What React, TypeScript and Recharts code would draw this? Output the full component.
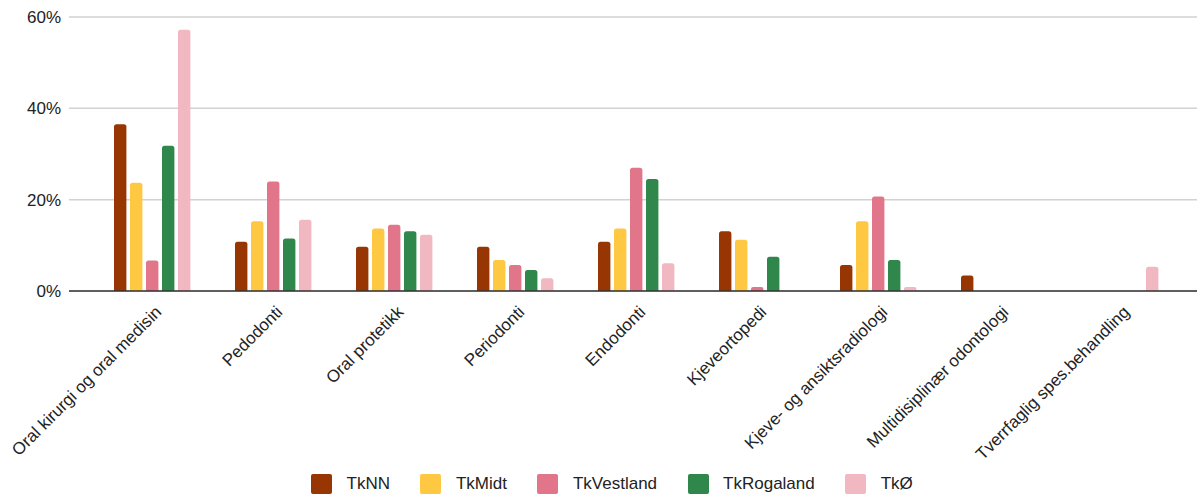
import React from 'react';
import { BarChart, Bar, XAxis, YAxis, CartesianGrid, Legend } from 'recharts';

const categories = [
  'Oral kirurgi og oral medisin',
  'Pedodonti',
  'Oral protetikk',
  'Periodonti',
  'Endodonti',
  'Kjeveortopedi',
  'Kjeve- og ansiktsradiologi',
  'Multidisiplinær odontologi',
  'Tverrfaglig spes.behandling',
];

const tkNN = [36.5, 10.8, 9.7, 9.7, 10.8, 13.1, 5.7, 3.4, 0];
const tkMidt = [23.7, 15.3, 13.7, 6.8, 13.7, 11.2, 15.3, 0, 0];
const tkVestland = [6.7, 24.0, 14.5, 5.7, 27.0, 0.9, 20.7, 0, 0];
const tkRogaland = [31.8, 11.5, 13.1, 4.6, 24.5, 7.5, 6.8, 0, 0];
const tkO = [57.2, 15.6, 12.3, 2.8, 6.1, 0, 0.9, 0, 5.3];

const yTicks = [0, 20, 40, 60];

const series = [
  { key: 'TkNN', values: tkNN, color: '#973503' },
  { key: 'TkMidt', values: tkMidt, color: '#FFC843' },
  { key: 'TkVestland', values: tkVestland, color: '#E1768A' },
  { key: 'TkRogaland', values: tkRogaland, color: '#30874B' },
  { key: 'TkØ', values: tkO, color: '#F2B8C2' },
];

const data = categories.map((name, i) => {
  const row: Record<string, string | number> = { name };
  series.forEach((s) => {
    row[s.key] = s.values[i];
  });
  return row;
});

const FONT = "'Liberation Sans', Arial, sans-serif";

// category labels hang at 45° with their end near the group centre
const AngledTick = (props: any) => {
  const { x, y, payload } = props;
  const ax = x + 10;
  const ay = y + 22;
  return (
    <text
      x={ax}
      y={ay}
      transform={`rotate(-45 ${ax} ${ay})`}
      textAnchor="end"
      fontSize={17}
      fontFamily={FONT}
      fill="#222"
    >
      {payload.value}
    </text>
  );
};

const LegendRow = () => (
  <div
    style={{
      display: 'flex',
      alignItems: 'center',
      height: 26,
      paddingLeft: 311,
      fontFamily: FONT,
      fontSize: 17,
      color: '#222',
    }}
  >
    {series.map((s) => (
      <div key={s.key} style={{ display: 'flex', alignItems: 'center', marginRight: 30.5 }}>
        <span
          style={{
            display: 'inline-block',
            width: 21,
            height: 20,
            borderRadius: 2,
            background: s.color,
            marginRight: 14.5,
          }}
        />
        <span>{s.key}</span>
      </div>
    ))}
  </div>
);

export default function App() {
  return (
    <div style={{ position: 'absolute', left: 0, top: 0, background: '#fff' }}>
      <BarChart
        width={1197}
        height={497}
        data={data}
        margin={{ top: 17, right: 0, left: 0, bottom: 0 }}
        barSize={12.4}
        barGap={3.6}
      >
        <CartesianGrid vertical={false} stroke="#d2d2d2" strokeWidth={1.5} />
        <XAxis
          dataKey="name"
          interval={0}
          height={180}
          padding={{ left: 23, right: 16 }}
          tick={<AngledTick />}
          tickLine={false}
          tickSize={0}
          tickMargin={0}
          axisLine={{ stroke: '#333', strokeWidth: 1.5 }}
        />
        <YAxis
          width={69}
          domain={[0, 60]}
          ticks={yTicks}
          tickFormatter={(v: number) => `${v}%`}
          axisLine={false}
          tickLine={false}
          tickSize={0}
          tickMargin={8}
          tick={{ fontSize: 17, fill: '#222', fontFamily: FONT }}
        />
        <Legend
          verticalAlign="bottom"
          content={() => <LegendRow />}
          wrapperStyle={{ left: 0, bottom: 0, width: 1197, height: 26 }}
        />
        {series.map((s) => (
          <Bar
            key={s.key}
            dataKey={s.key}
            fill={s.color}
            radius={[2.5, 2.5, 0, 0]}
            isAnimationActive={false}
          />
        ))}
      </BarChart>
    </div>
  );
}
